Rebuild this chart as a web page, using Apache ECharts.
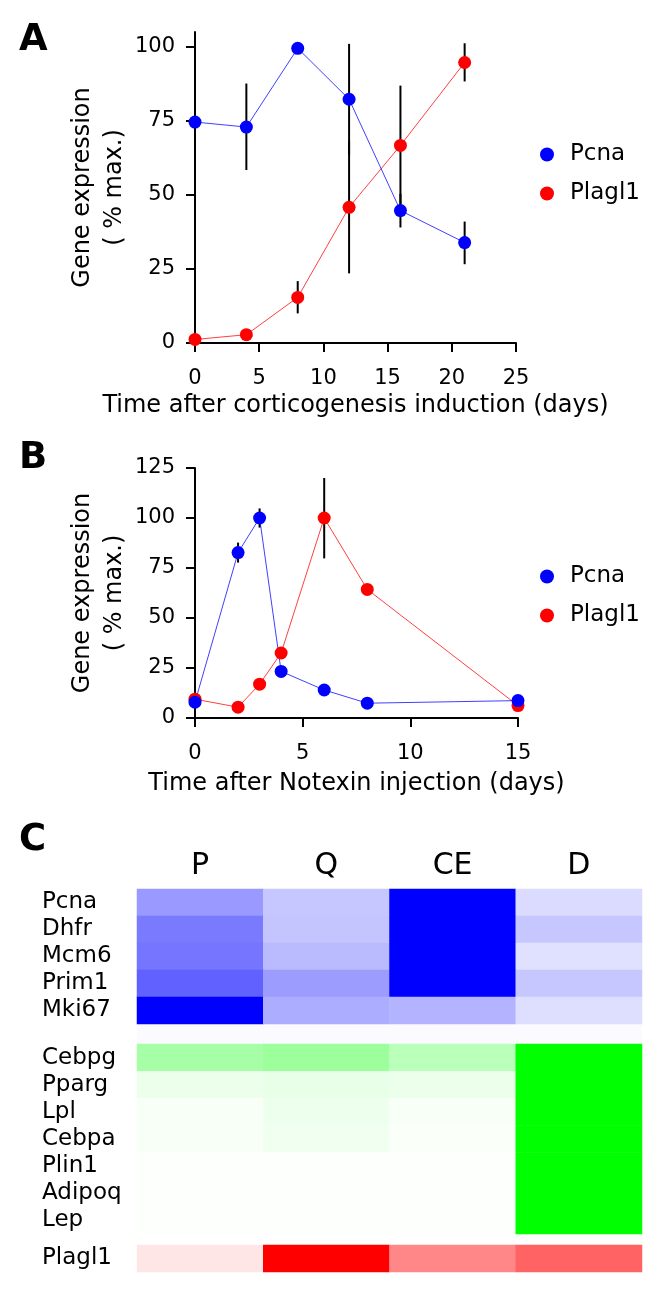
<!DOCTYPE html>
<html>
<head>
<meta charset="utf-8">
<script src="https://cdn.jsdelivr.net/npm/echarts@6/dist/echarts.min.js"></script>
<style>
html,body{margin:0;padding:0;background:#fff;}
#chart{width:661px;height:1291px;}
</style>
</head>
<body>
<div id="chart"></div>
<script>
// ---------- Panel A data ----------
const daysA = [0, 4, 8, 12, 16, 21];
const pcnaA = [74.6, 72.9, 99.5, 82.3, 44.7, 33.9];
const plagl1A = [1.2, 2.8, 15.4, 45.8, 66.7, 94.7];
const pcnaErrA = [[4, 58.4, 87.6], [12, 63.6, 101.0], [16, 39.0, 50.4], [21, 26.6, 41.0]];
const plagl1ErrA = [[8, 10.0, 20.9], [12, 23.5, 68.1], [16, 46.5, 86.9], [21, 88.3, 101.2]];
const yTicksA = [0, 25, 50, 75, 100];

// ---------- Panel B data ----------
const daysB = [0, 2, 3, 4, 6, 8, 15];
const pcnaB = [7.9, 82.7, 100, 23.3, 14.0, 7.4, 8.7];
const plagl1B = [9.4, 5.4, 16.9, 32.5, 100, 64.3, 6.2];
const pcnaErrB = [[2, 77.7, 87.7], [3, 95.2, 104.8]];
const plagl1ErrB = [[6, 79.8, 120.0]];

// ---------- Panel C data ----------
const conditions = ['P', 'Q', 'CE', 'D'];
const prolifGenes = ['Pcna', 'Dhfr', 'Mcm6', 'Prim1', 'Mki67'];
const prolifValues = [
  [0.40, 0.22, 1.00, 0.14],
  [0.52, 0.23, 1.00, 0.22],
  [0.54, 0.27, 1.00, 0.12],
  [0.62, 0.39, 1.00, 0.22],
  [1.00, 0.32, 0.30, 0.13]
];
const adipoGenes = ['Cebpg', 'Pparg', 'Lpl', 'Cebpa', 'Plin1', 'Adipoq', 'Lep'];
const adipoValues = [
  [0.35, 0.39, 0.27, 1.00],
  [0.08, 0.09, 0.08, 1.00],
  [0.03, 0.07, 0.03, 1.00],
  [0.03, 0.06, 0.02, 1.00],
  [0.01, 0.01, 0.01, 1.00],
  [0.01, 0.01, 0.01, 1.00],
  [0.01, 0.01, 0.01, 1.00]
];
const plagGenes = ['Plagl1'];
const plagValues = [[0.10, 1.00, 0.47, 0.61]];

// ---------- helpers ----------
const FONT = 'DejaVu Sans';
const BLUE = '#0000ff', RED = '#ff0000';
function pairs(xs, ys) { return xs.map((x, i) => [x, ys[i]]); }
function heatData(values) {
  const out = [];
  values.forEach((row, r) => row.forEach((v, c) => out.push([c, r, v])));
  return out;
}
function errSeries(name, data, xi, yi) {
  return {
    type: 'custom', name: name, xAxisIndex: xi, yAxisIndex: yi, z: 1,
    data: data, encode: { x: 0, y: [1, 2] }, silent: true,
    renderItem: function (params, api) {
      const p1 = api.coord([api.value(0), api.value(1)]);
      const p2 = api.coord([api.value(0), api.value(2)]);
      return { type: 'line', shape: { x1: p1[0], y1: p1[1], x2: p2[0], y2: p2[1] },
        style: { stroke: '#000', lineWidth: 2 } };
    }
  };
}
function lineSeries(name, data, color, xi, yi) {
  return {
    type: 'line', name: name, xAxisIndex: xi, yAxisIndex: yi, data: data, z: 3,
    symbol: 'circle', symbolSize: 13, showAllSymbol: true,
    itemStyle: { color: color }, lineStyle: { color: color, width: 1, opacity: 0.75 },
    animation: false
  };
}
const axisLineStyle = { show: true, lineStyle: { color: '#000', width: 2 } };
const tickStyle = { show: true, length: 9, lineStyle: { color: '#000', width: 2 } };
const labelStyle = { color: '#000', fontFamily: FONT, fontSize: 21 };
const nameStyle = { color: '#000', fontFamily: FONT, fontSize: 24, lineHeight: 32 };

function valueX(gi, max, name, gap) {
  return {
    type: 'value', gridIndex: gi, min: 0, max: max, interval: 5,
    axisLine: Object.assign({ onZero: false }, axisLineStyle), axisTick: tickStyle,
    axisLabel: Object.assign({ margin: 25 }, labelStyle), splitLine: { show: false },
    name: name, nameLocation: 'middle', nameGap: gap, nameTextStyle: nameStyle
  };
}
function catX(gi, showLabels) {
  return {
    type: 'category', gridIndex: gi, data: conditions, position: 'top',
    axisLine: { show: false }, axisTick: { show: false }, splitLine: { show: false },
    axisLabel: { show: showLabels, interval: 0, color: '#000', fontFamily: FONT, fontSize: 30, margin: 8 }
  };
}
function catY(gi, genes) {
  return {
    type: 'category', gridIndex: gi, data: genes, inverse: true,
    axisLine: { show: false }, axisTick: { show: false }, splitLine: { show: false },
    axisLabel: { interval: 0, color: '#000', fontFamily: FONT, fontSize: 23, align: 'left', margin: 95 }
  };
}
function heatSeries(name, values, xi, yi) {
  return { type: 'heatmap', name: name, xAxisIndex: xi, yAxisIndex: yi,
    data: heatData(values), itemStyle: { borderWidth: 0 }, emphasis: { disabled: true } };
}

const option = {
  backgroundColor: '#fff',
  animation: false,
  textStyle: { fontFamily: FONT },
  graphic: [
    { type: 'text', left: 19, top: 22, style: { text: 'A', font: 'bold 37px "DejaVu Sans"', fill: '#000' } },
    { type: 'text', left: 19, top: 440, style: { text: 'B', font: 'bold 37px "DejaVu Sans"', fill: '#000' } },
    { type: 'text', left: 19, top: 822, style: { text: 'C', font: 'bold 37px "DejaVu Sans"', fill: '#000' } }
  ],
  legend: [
    { data: ['Pcna', 'Plagl1'], orient: 'vertical', left: 535, top: 138, itemGap: 16,
      icon: 'circle', itemWidth: 14, itemHeight: 14,
      textStyle: { color: '#000', fontFamily: FONT, fontSize: 23, padding: [0, 0, 0, 11] } },
    { data: ['Pcna B', 'Plagl1 B'], orient: 'vertical', left: 535, top: 560, itemGap: 16,
      icon: 'circle', itemWidth: 14, itemHeight: 14,
      formatter: function (n) { return n.replace(' B', ''); },
      textStyle: { color: '#000', fontFamily: FONT, fontSize: 23, padding: [0, 0, 0, 11] } }
  ],
  grid: [
    { left: 195, top: 32, width: 321, height: 311 },
    { left: 195, top: 468, width: 323, height: 250 },
    { left: 137, top: 889, width: 505, height: 135 },
    { left: 137, top: 1024, width: 505, height: 20, show: true, backgroundColor: '#fafaff', borderWidth: 0 },
    { left: 137, top: 1044, width: 505, height: 190 },
    { left: 137, top: 1245, width: 505, height: 27 }
  ],
  xAxis: [
    valueX(0, 25, 'Time after corticogenesis induction (days)', 46),
    valueX(1, 15, 'Time after Notexin injection (days)', 50),
    catX(2, true),
    catX(4, false),
    catX(5, false)
  ],
  yAxis: [
    { type: 'value', gridIndex: 0, min: 0, max: 105, interval: 25,
      axisLine: axisLineStyle,
      axisTick: Object.assign({ customValues: yTicksA }, tickStyle),
      axisLabel: Object.assign({ margin: 20, customValues: yTicksA }, labelStyle),
      splitLine: { show: false },
      name: 'Gene expression\n( % max.)', nameLocation: 'middle', nameGap: 61, nameTextStyle: nameStyle },
    { type: 'value', gridIndex: 1, min: 0, max: 125, interval: 25,
      axisLine: axisLineStyle, axisTick: tickStyle,
      axisLabel: Object.assign({ margin: 20 }, labelStyle), splitLine: { show: false },
      name: 'Gene expression\n( % max.)', nameLocation: 'middle', nameGap: 61, nameTextStyle: nameStyle },
    catY(2, prolifGenes),
    catY(4, adipoGenes),
    catY(5, plagGenes)
  ],
  visualMap: [
    { type: 'continuous', show: false, min: 0, max: 1, seriesIndex: 8, inRange: { color: ['#ffffff', BLUE] } },
    { type: 'continuous', show: false, min: 0, max: 1, seriesIndex: 9, inRange: { color: ['#ffffff', '#00ff00'] } },
    { type: 'continuous', show: false, min: 0, max: 1, seriesIndex: 10, inRange: { color: ['#ffffff', RED] } }
  ],
  series: [
    errSeries('errA1', pcnaErrA, 0, 0),
    errSeries('errA2', plagl1ErrA, 0, 0),
    lineSeries('Plagl1', pairs(daysA, plagl1A), RED, 0, 0),
    lineSeries('Pcna', pairs(daysA, pcnaA), BLUE, 0, 0),
    errSeries('errB1', pcnaErrB, 1, 1),
    errSeries('errB2', plagl1ErrB, 1, 1),
    lineSeries('Plagl1 B', pairs(daysB, plagl1B), RED, 1, 1),
    lineSeries('Pcna B', pairs(daysB, pcnaB), BLUE, 1, 1),
    heatSeries('prolif', prolifValues, 2, 2),
    heatSeries('adipo', adipoValues, 3, 3),
    heatSeries('plag', plagValues, 4, 4)
  ]
};
const chart = echarts.init(document.getElementById('chart'), null, { renderer: 'canvas' });
chart.setOption(option);
</script>
</body>
</html>
